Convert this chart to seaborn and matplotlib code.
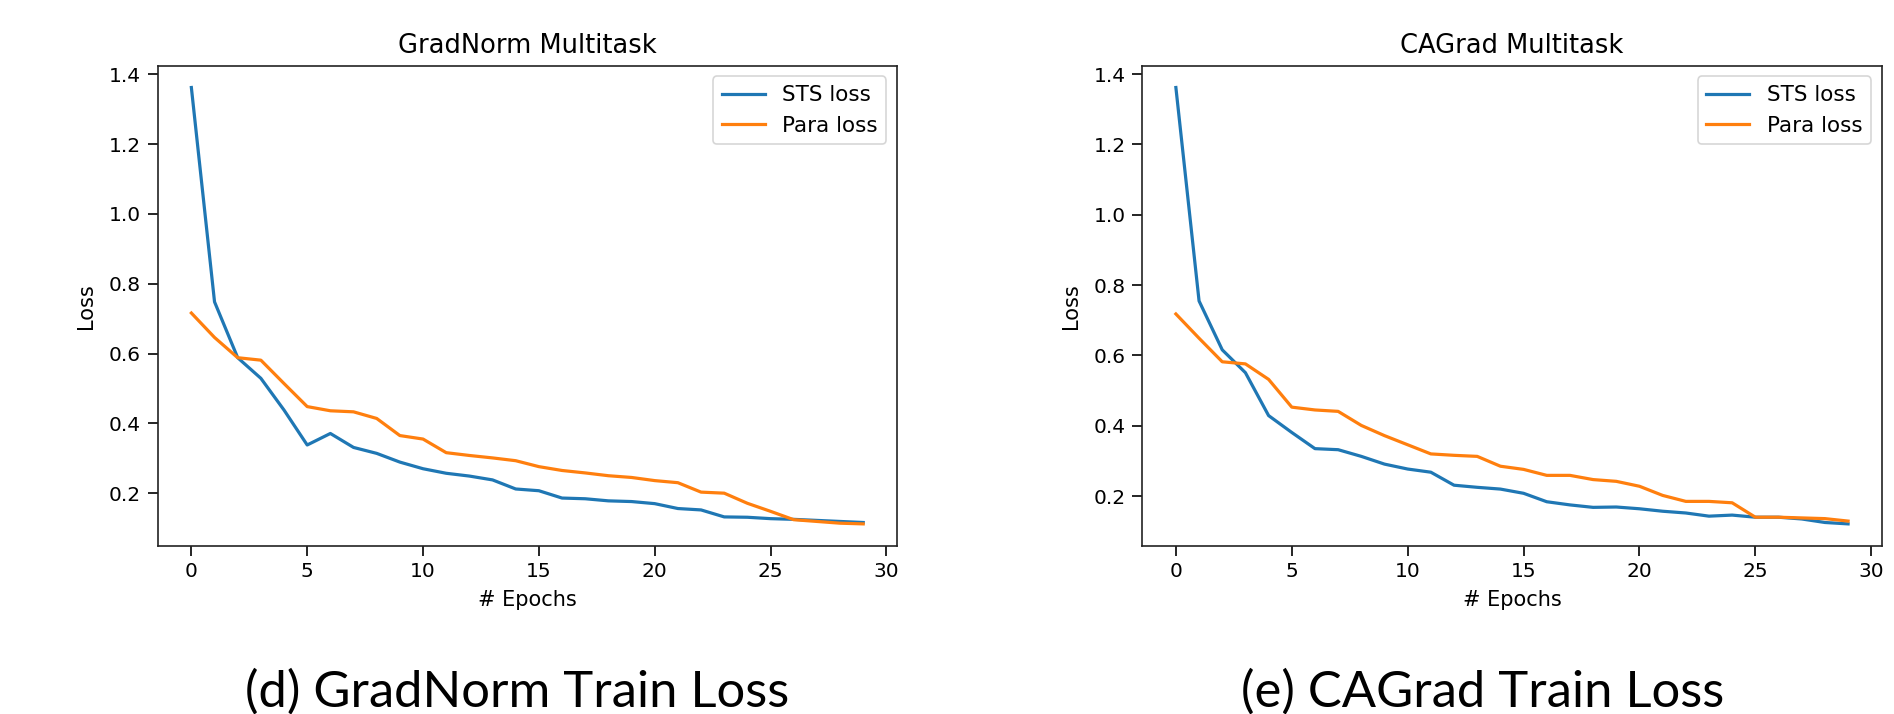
import numpy as np
import pandas as pd
import matplotlib
matplotlib.use("Agg")
import matplotlib.pyplot as plt
import seaborn as sns


OUTPUT_PATH = "out.png"

EPOCHS = list(range(30))

GRADNORM_STS = [
    1.362, 0.748, 0.588, 0.529, 0.438, 0.338, 0.371, 0.331, 0.314, 0.289,
    0.270, 0.257, 0.249, 0.238, 0.212, 0.207, 0.186, 0.184, 0.178, 0.176,
    0.170, 0.156, 0.152, 0.132, 0.131, 0.127, 0.125, 0.122, 0.119, 0.116,
]
GRADNORM_PARA = [
    0.716, 0.646, 0.588, 0.581, 0.514, 0.448, 0.436, 0.433, 0.414, 0.365,
    0.355, 0.316, 0.308, 0.301, 0.293, 0.276, 0.265, 0.258, 0.250, 0.245,
    0.236, 0.230, 0.203, 0.200, 0.171, 0.148, 0.124, 0.119, 0.114, 0.112,
]

CAGRAD_STS = [
    1.362, 0.755, 0.616, 0.551, 0.429, 0.381, 0.335, 0.332, 0.313, 0.291,
    0.277, 0.268, 0.231, 0.225, 0.220, 0.208, 0.184, 0.175, 0.168, 0.169,
    0.164, 0.157, 0.152, 0.143, 0.146, 0.140, 0.140, 0.135, 0.125, 0.121,
]
CAGRAD_PARA = [
    0.718, 0.649, 0.582, 0.576, 0.532, 0.453, 0.445, 0.441, 0.401, 0.372,
    0.346, 0.320, 0.316, 0.313, 0.285, 0.276, 0.259, 0.259, 0.247, 0.242,
    0.228, 0.202, 0.185, 0.185, 0.181, 0.140, 0.140, 0.138, 0.136, 0.129,
]

TITLES = ["GradNorm Multitask", "CAGrad Multitask"]
CAPTIONS = ["(d) GradNorm Train Loss", "(e) CAGrad Train Loss"]
SERIES_LABELS = ["STS loss", "Para loss"]
COLORS = ["#1f77b4", "#ff7f0e"]


def build_frame(sts, para):
    return pd.DataFrame({
        "epoch": EPOCHS + EPOCHS,
        "loss": sts + para,
        "series": [SERIES_LABELS[0]] * len(sts) + [SERIES_LABELS[1]] * len(para),
    })


def draw_panel(ax, df, title):
    sns.lineplot(
        data=df, x="epoch", y="loss", hue="series",
        palette=COLORS, linewidth=2.3, ax=ax,
    )
    ax.set_title(title, fontsize=18.5, pad=9)
    ax.set_xlabel("# Epochs", fontsize=15, labelpad=6)
    ax.set_ylabel("Loss", fontsize=15, labelpad=9)
    ax.set_xticks([0, 5, 10, 15, 20, 25, 30])
    ax.set_yticks([0.2, 0.4, 0.6, 0.8, 1.0, 1.2, 1.4])
    ax.tick_params(labelsize=14.5, length=7, width=1.2, pad=5)
    for spine in ax.spines.values():
        spine.set_linewidth(1.2)
        spine.set_color("#222222")
    leg = ax.legend(loc="upper right", fontsize=15.5, title=None,
                    borderaxespad=0.5)
    leg.get_frame().set_linewidth(1.2)
    for line in leg.get_lines():
        line.set_linewidth(2.3)


def main():
    fig = plt.figure(figsize=(18.94, 7.14), dpi=100)
    ax_left = fig.add_axes([0.0833, 0.2357, 0.3902, 0.6723])
    ax_right = fig.add_axes([0.6031, 0.2357, 0.3904, 0.6723])

    draw_panel(ax_left, build_frame(GRADNORM_STS, GRADNORM_PARA), TITLES[0])
    draw_panel(ax_right, build_frame(CAGRAD_STS, CAGRAD_PARA), TITLES[1])

    fig.text(0.273, 0.0098, CAPTIONS[0], ha="center", va="baseline",
             fontsize=36.5, family=["Lato", "DejaVu Sans"])
    fig.text(0.783, 0.0098, CAPTIONS[1], ha="center", va="baseline",
             fontsize=36.5, family=["Lato", "DejaVu Sans"])

    fig.savefig(OUTPUT_PATH, dpi=100)
    plt.close(fig)


if __name__ == "__main__":
    main()
